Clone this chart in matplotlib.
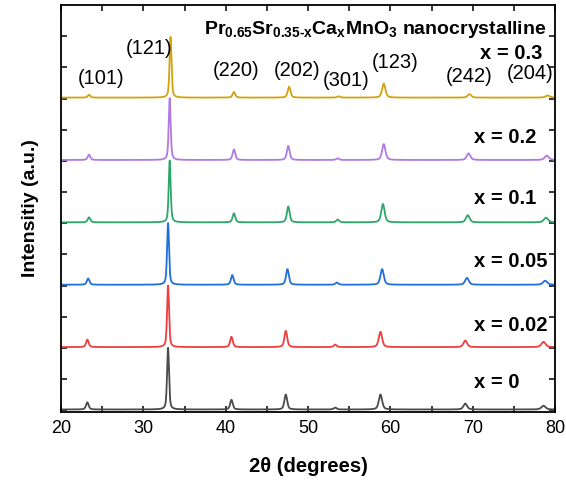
import numpy as np
import matplotlib
matplotlib.use("Agg")
import matplotlib.pyplot as plt

plt.rcParams["font.family"] = ["Liberation Sans", "DejaVu Sans"]
plt.rcParams["mathtext.fontset"] = "custom"
plt.rcParams["mathtext.rm"] = "Liberation Sans:bold"
plt.rcParams["mathtext.bf"] = "Liberation Sans:bold"
plt.rcParams["mathtext.it"] = "Liberation Sans:bold"
plt.rcParams["mathtext.default"] = "bf"

# -----------------------------
# XRD peaks (2theta, height in stacked units) per composition
# -----------------------------
samples = ["x = 0", "x = 0.02", "x = 0.05", "x = 0.1", "x = 0.2", "x = 0.3"]
colors = ["#4a4a4a", "#ee3e3e", "#1f6fdc", "#2da66b", "#b07ae2", "#d4a20f"]
offsets = [0, 2, 4, 6, 8, 10]

peak_pos = [
    [23.2, 33.0, 40.7, 47.3, 53.3, 58.8, 69.1, 78.6],
    [23.2, 33.0, 40.7, 47.3, 53.3, 58.8, 69.1, 78.6],
    [23.3, 33.0, 40.8, 47.5, 53.5, 59.0, 69.3, 78.8],
    [23.4, 33.2, 41.0, 47.6, 53.6, 59.1, 69.4, 78.9],
    [23.4, 33.2, 41.0, 47.6, 53.6, 59.2, 69.5, 79.0],
    [23.4, 33.3, 41.0, 47.7, 53.7, 59.2, 69.6, 79.1],
]
peak_height = [
    [0.23, 1.98, 0.31, 0.48, 0.06, 0.48, 0.19, 0.12],
    [0.24, 1.98, 0.33, 0.52, 0.08, 0.49, 0.21, 0.17],
    [0.20, 1.98, 0.31, 0.50, 0.07, 0.50, 0.22, 0.13],
    [0.16, 1.98, 0.29, 0.51, 0.09, 0.59, 0.23, 0.15],
    [0.17, 1.98, 0.34, 0.45, 0.05, 0.51, 0.21, 0.14],
    [0.09, 1.95, 0.18, 0.35, 0.04, 0.45, 0.11, 0.07],
]
# full width at half maximum of each reflection (degrees)
peak_fwhm = [0.38, 0.28, 0.38, 0.4, 0.42, 0.48, 0.52, 0.6]

# Miller indices and where they are written
hkl = ["(101)", "(121)", "(220)", "(202)", "(301)", "(123)", "(242)", "(204)"]
hkl_x = [24.9, 30.7, 41.3, 48.7, 54.6, 60.6, 69.6, 77.0]
hkl_y = [10.65, 11.62, 10.91, 10.91, 10.59, 11.17, 10.72, 10.81]

label_x = [70.2, 70.2, 70.2, 70.2, 70.2, 70.9]
label_y = [0.88, 2.71, 4.76, 6.78, 8.76, 11.45]

two_theta = np.linspace(20, 80, 4001)


def profile(pos, height):
    y = np.zeros_like(two_theta)
    for p, h, w in zip(pos, height, peak_fwhm):
        hw = w / 2
        lor = 1 / (1 + ((two_theta - p) / hw) ** 2)
        gau = np.exp(-np.log(2) * ((two_theta - p) / hw) ** 2)
        y += h * (0.5 * lor + 0.5 * gau)
    return y


fig = plt.figure(figsize=(5.66, 4.84), dpi=100)
ax = fig.add_axes([0.1078, 0.1488, 0.8728, 0.8409])

for pos, height, off, c in zip(peak_pos, peak_height, offsets, colors):
    ax.plot(two_theta, profile(pos, height) + off + 0.03, color=c, lw=1.3)

for t, x, y in zip(hkl, hkl_x, hkl_y):
    ax.text(x, y, t, ha="center", va="center", fontsize=14.5)

for s, x, y in zip(samples, label_x, label_y):
    ax.text(x, y, s, ha="left", va="center", fontsize=14.5, fontweight="bold")

ax.text(79.0, 12.2,
        r"Pr$_{0.65}$Sr$_{0.35\text{-}x}$Ca$_{x}$MnO$_{3}$ nanocrystalline",
        ha="right", va="center", fontsize=14, fontweight="bold")

# -----------------------------
# axes
# -----------------------------
ax.set_xlim(20, 80)
ax.set_ylim(-0.05, 13.0)
ax.set_xticks(np.arange(20, 81, 10))
ax.set_xticks(np.arange(25, 80, 10), minor=True)
ax.set_yticks(np.arange(0, 13, 1))
ax.set_yticklabels([])
ax.tick_params(which="both", direction="in", top=True, right=True,
               length=4, width=1.1, labelsize=13)
ax.tick_params(axis="x", pad=6)
for sp in ax.spines.values():
    sp.set_linewidth(1.3)

ax.set_xlabel("2θ (degrees)", fontsize=14.5, fontweight="bold", labelpad=14)
ax.set_ylabel("Intensitiy (a.u.)", fontsize=14, fontweight="bold", labelpad=12)

fig.savefig("out.png", dpi=100)
